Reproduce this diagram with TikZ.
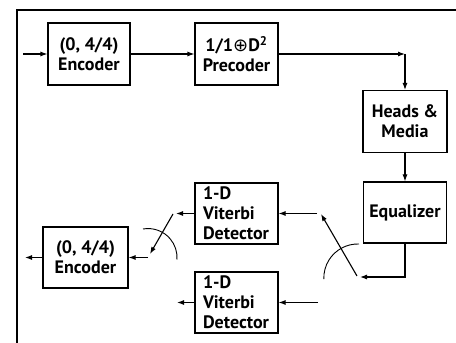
\documentclass[tikz,border=0pt]{standalone}
\usepackage{fontspec}
\setmainfont{PT Sans}
\newfontfamily\symfont{DejaVu Sans}
\usetikzlibrary{positioning, arrows.meta}

\tikzset{
  blk/.style={draw, line width=1.1pt, minimum width=83pt, minimum height=62pt,
              inner sep=0pt, align=center,
              font=\fontsize{18}{20}\selectfont\bfseries},
  blkl/.style={blk, align=left, text width=67pt},
  arr/.style={line width=1.1pt, -{Latex[length=7pt,width=5pt]}},
  swarc/.style={line width=0.9pt},
}

\begin{document}
\begin{tikzpicture}[x=1pt, y=1pt]
  \useasboundingbox (0,0) rectangle (456,343);
  \draw[line width=1.1pt] (17,0) -- (17,333) -- (456,333);

  \node[blk, minimum width=82pt] (enc) at (89,289) {(0, 4/4)\\Encoder};
  \node[blk] (pre) at (236.5,289) {1/1{\symfont\mdseries ⊕}D\textsuperscript{2}\\Precoder};
  \node[blk, minimum width=84pt] (hm) at (405,221.5) {Heads \&\\Media};
  \node[blk, minimum height=61pt] (eq) at (405,130.5) {Equalizer};
  \node[blkl, minimum height=61pt] (vd1) at (236.5,129.5) {1-D\\Viterbi\\Detector};
  \node[blkl, minimum height=61pt] (vd2) at (236.5,40.5) {1-D\\Viterbi\\Detector};
  \node[blk, minimum width=85pt, minimum height=61pt] (dec) at (85.5,85.5) {(0, 4/4)\\Encoder};

  \coordinate (in) at (23,289);
  \coordinate (tap) at (405,289);
  \coordinate (rpiv) at (360,66);
  \coordinate (rsw) at (357,67);
  \coordinate (rtop) at (321,129);
  \coordinate (v1in) at (317,129.5);
  \coordinate (v2in) at (318,40.5);
  \coordinate (v1out) at (176,129.5);
  \coordinate (v2out) at (177,40.5);
  \coordinate (lsw) at (173,129);
  \coordinate (ltip) at (150,89);
  \coordinate (lin) at (148,85.5);
  \coordinate (out) at (25,85.5);

  \draw[arr] (in) -- (enc);
  \draw[arr] (enc) -- (pre);
  \draw[arr] (pre) -- (tap);
  \draw[arr] (tap) -- (hm);
  \draw[arr] (hm) -- (eq);
  \draw[arr] (eq.south) |- (rpiv);
  \draw[arr] (rsw) -- (rtop);
  \draw[arr] (v1in) -- (vd1);
  \draw[arr] (v2in) -- (vd2);
  \draw[arr] (vd1) -- (v1out);
  \draw[arr] (vd2) -- (v2out);
  \draw[arr] (lsw) -- (ltip);
  \draw[arr] (lin) -- (dec);
  \draw[arr] (dec) -- (out);

  \draw[swarc] (143,114) arc[start angle=100, end angle=-4, radius=29];
  \draw[swarc] (359,99) arc[start angle=88, end angle=182, radius=34];
\end{tikzpicture}
\end{document}
